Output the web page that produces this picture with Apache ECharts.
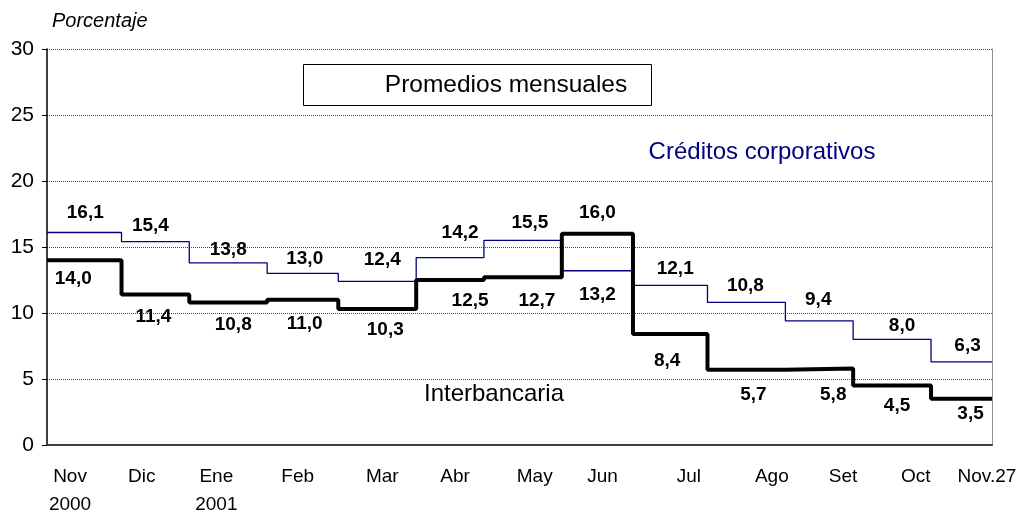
<!DOCTYPE html>
<html>
<head>
<meta charset="utf-8">
<script src="https://cdn.jsdelivr.net/npm/echarts@6/dist/echarts.min.js"></script>
<style>
  html, body { margin: 0; padding: 0; background: #fff; }
  #chart { width: 1023px; height: 512px; }
</style>
</head>
<body>
<div id="chart"></div>
<script>
// dias habiles por mes (ancho de cada escalon)
const months = ['Nov', 'Dic', 'Ene', 'Feb', 'Mar', 'Abr', 'May', 'Jun', 'Jul', 'Ago', 'Set', 'Oct', 'Nov.27']
const monthDays = [22, 20, 23, 21, 23, 20, 23, 21, 22, 23, 20, 23, 18]
const creditos = [16.1, 15.4, 13.8, 13.0, 12.4, 14.2, 15.5, 13.2, 12.1, 10.8, 9.4, 8.0, 6.3]
const interbancaria = [14.0, 11.4, 10.8, 11.0, 10.3, 12.5, 12.7, 16.0, 8.4, 5.7, 5.8, 4.5, 3.5]
const tickLabels = ['Nov\n2000', 'Dic', 'Ene\n2001', 'Feb', 'Mar', 'Abr', 'May', 'Jun', 'Jul', 'Ago', 'Set', 'Oct', 'Nov.27']
const tickDays = [6.8, 28, 50, 74, 99, 120.5, 144, 164, 189.5, 214, 235, 256.5, 277.5]

// desplazamientos de las etiquetas (px)
const credOffsets = [[1, -20], [-5, -16], [0, -13], [2, -15], [5, -22], [10, -25], [7, -18], [0, 24], [5, -17], [-1, -17], [-1, -21], [10, -14], [6, -16]]
const interOffsets = [[-11, 19], [-2, 22], [5, 22], [2, 24], [8, 21], [20, 21], [14, 23], [0, -21], [-3, 27], [7, 25], [14, 26], [5, 20], [9, 15]]

const FONT = 'Liberation Sans, Arial, sans-serif'

let starts = []
let acc = 0
monthDays.forEach(d => { starts.push(acc); acc += d })
const totalDays = acc

function stepData(values) {
  let arr = values.map((v, i) => [starts[i], v])
  arr.push([totalDays, values[values.length - 1]])
  return arr
}

function labelData(values, offsets) {
  return values.map((v, i) => ({
    value: [starts[i] + monthDays[i] / 2, v],
    label: { offset: offsets[i] }
  }))
}

const labelStyle = {
  show: true,
  position: 'inside',
  color: '#000',
  fontFamily: FONT,
  fontWeight: 'bold',
  fontSize: 19,
  formatter: p => p.value[1].toFixed(1).replace('.', ',')
}

const chart = echarts.init(document.getElementById('chart'))

const option = {
  animation: false,
  grid: { left: 47, right: 31, top: 49, bottom: 67, outerBoundsMode: 'none', containLabel: false },
  xAxis: {
    type: 'value',
    min: 0,
    max: totalDays,
    axisLine: { show: true, lineStyle: { color: '#404040', width: 2 } },
    axisTick: { show: false },
    splitLine: { show: false },
    axisLabel: {
      customValues: tickDays,
      margin: 18,
      color: '#000',
      fontFamily: FONT,
      fontSize: 19,
      lineHeight: 28,
      formatter: v => tickLabels[tickDays.indexOf(v)]
    }
  },
  yAxis: [
    {
      type: 'value',
      min: 0,
      max: 30,
      interval: 5,
      axisLine: { show: true, lineStyle: { color: '#000', width: 1.5 } },
      axisTick: { show: true, length: 5, lineStyle: { color: '#000' } },
      splitLine: { show: true, lineStyle: { color: '#444', type: [1, 1], width: 1 } },
      axisLabel: { margin: 13, color: '#000', fontFamily: FONT, fontSize: 21 }
    },
    {
      type: 'value',
      position: 'right',
      min: 0,
      max: 30,
      interval: 5,
      axisLine: { show: true, lineStyle: { color: '#909090', width: 1 } },
      axisTick: { show: false },
      axisLabel: { show: false },
      splitLine: { show: false }
    }
  ],
  series: [
    {
      name: 'Créditos corporativos',
      type: 'line',
      step: 'end',
      data: stepData(creditos),
      symbol: 'none',
      lineStyle: { color: '#000080', width: 1.3 },
      z: 3
    },
    {
      name: 'Interbancaria',
      type: 'line',
      step: 'end',
      data: stepData(interbancaria),
      symbol: 'none',
      lineStyle: { color: '#000', width: 4 },
      z: 4
    },
    {
      type: 'scatter',
      symbolSize: 0,
      itemStyle: { opacity: 1 },
      data: labelData(creditos, credOffsets),
      label: labelStyle,
      z: 5
    },
    {
      type: 'scatter',
      symbolSize: 0,
      itemStyle: { opacity: 1 },
      data: labelData(interbancaria, interOffsets),
      label: labelStyle,
      z: 5
    }
  ],
  graphic: [
    {
      type: 'text', left: 52, top: 11,
      style: { text: 'Porcentaje', fontFamily: FONT, fontStyle: 'italic', fontSize: 20, fill: '#000' }
    },
    {
      type: 'rect', shape: { x: 303.5, y: 64.5, width: 348, height: 41 },
      style: { fill: '#fff', stroke: '#000', lineWidth: 1 }, z: 10
    },
    {
      type: 'text', x: 506, y: 85,
      style: { text: 'Promedios mensuales', fontFamily: FONT, fontSize: 24.5, fill: '#000', align: 'center', verticalAlign: 'middle' }, z: 11
    },
    {
      type: 'text', x: 762, y: 152,
      style: { text: 'Créditos corporativos', fontFamily: FONT, fontSize: 24, fill: '#000080', align: 'center', verticalAlign: 'middle' }
    },
    {
      type: 'text', x: 494, y: 394,
      style: { text: 'Interbancaria', fontFamily: FONT, fontSize: 24, fill: '#000', align: 'center', verticalAlign: 'middle' }
    }
  ]
}

chart.setOption(option)
</script>
</body>
</html>
